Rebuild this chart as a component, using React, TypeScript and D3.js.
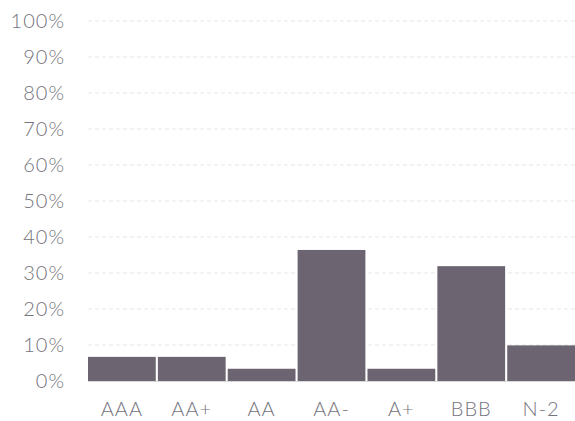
import { useMemo } from "react";
import * as d3 from "d3";

const categories = ["AAA", "AA+", "AA", "AA-", "A+", "BBB", "N-2"];
const values = [6.7, 6.7, 3.4, 36.4, 3.4, 31.9, 9.9];
const yTicks = [0, 10, 20, 30, 40, 50, 60, 70, 80, 90, 100];

const WIDTH = 575;
const HEIGHT = 421;
const LEFT = 88;
const RIGHT = 575;
const TOP = 21;
const BOTTOM = 381;

const BAR_COLOR = "#6c6571";
const TEXT_COLOR = "#74737d";
const FONT = "Lato, Roboto, sans-serif";

const App = () => {
    const x = useMemo(
        () => d3.scaleBand<string>().domain(categories).range([LEFT, RIGHT]).paddingInner(0.03).paddingOuter(0),
        []
    );
    const y = useMemo(() => d3.scaleLinear().domain([0, 100]).range([BOTTOM, TOP]), []);

    return (
        <svg
            width={WIDTH}
            height={HEIGHT}
            style={{ position: "absolute", left: 0, top: 0, background: "#fff" }}
        >
            {yTicks.map(t => (
                <g key={t}>
                    {t > 0 && (
                        <line
                            x1={LEFT}
                            x2={RIGHT}
                            y1={y(t)}
                            y2={y(t)}
                            stroke="#e6e6e6"
                            strokeDasharray="4,3"
                        />
                    )}
                    <text
                        x={65}
                        y={y(t)}
                        dy="0.36em"
                        textAnchor="end"
                        fontFamily={FONT}
                        fontWeight={300}
                        fontSize={20}
                        letterSpacing={1}
                        fill={TEXT_COLOR}
                    >
                        {t}%
                    </text>
                </g>
            ))}
            {categories.map((c, i) => (
                <rect
                    key={c}
                    x={x(c)}
                    y={y(values[i])}
                    width={x.bandwidth()}
                    height={y(0) - y(values[i])}
                    fill={BAR_COLOR}
                />
            ))}
            <line x1={LEFT} x2={RIGHT} y1={BOTTOM + 0.5} y2={BOTTOM + 0.5} stroke="#d8d8d8" />
            {categories.map(c => (
                <text
                    key={c}
                    x={(x(c) ?? 0) + x.bandwidth() / 2}
                    y={416}
                    textAnchor="middle"
                    fontFamily={FONT}
                    fontWeight={300}
                    fontSize={20}
                    letterSpacing={1}
                    fill={TEXT_COLOR}
                >
                    {c}
                </text>
            ))}
        </svg>
    );
};

export default App;
